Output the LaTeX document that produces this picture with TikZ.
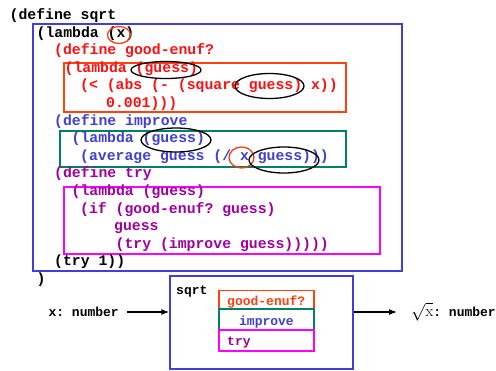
\documentclass[tikz,border=0pt]{standalone}
\usepackage{fontspec}
\setmonofont{Liberation Mono}
\usetikzlibrary{arrows.meta}
\definecolor{codeblue}{RGB}{64,64,208}
\definecolor{boxblue}{RGB}{64,64,216}
\definecolor{codered}{RGB}{255,16,16}
\definecolor{boxred}{RGB}{255,64,16}
\definecolor{boxgreen}{RGB}{0,128,100}
\definecolor{codepurple}{RGB}{160,0,160}
\definecolor{boxmagenta}{RGB}{255,0,255}
\definecolor{circred}{RGB}{240,64,16}
\tikzset{
  code/.style={anchor=base west,inner sep=0pt,font=\fontsize{14.8}{17.6}\selectfont\ttfamily\bfseries},
  small/.style={anchor=base west,inner sep=0pt,font=\fontsize{13}{15}\selectfont\ttfamily\bfseries},
  frame/.style={draw=#1,line width=1.4pt},
  ring/.style={draw=#1,line width=1.3pt},
  arr/.style={line width=1.2pt,-{Latex[length=8pt,width=6pt]}}
}
\begin{document}
\begin{tikzpicture}[x=1pt,y=-1pt]
\useasboundingbox (0,0) rectangle (496,370);
% nested scope frames
\draw[frame=boxblue] (33,24) rectangle (402,271);
\draw[frame=boxred] (64,63) rectangle (346,112);
\draw[frame=boxgreen] (60,131) rectangle (346,167);
\draw[frame=boxmagenta] (64,187) rectangle (380,254);
% source code lines
\node[code] (l1) at (9.5,19.5) {(define sqrt};
\node[code] (l2) at (36.5,37.1) {(lambda (x)};
\node[code,text=codered] (l3) at (54,54.7) {(define good-enuf?};
\node[code,text=codered] (l4) at (64.5,72.3) {(lambda (guess)};
\node[code,text=codered] (l5) at (80,89.9) {(< (abs (- (square guess) x))};
\node[code,text=codered] (l6) at (106,107.5) {0.001)))};
\node[code,text=codeblue] (l7) at (54,125.1) {(define improve};
\node[code,text=codeblue] (l8) at (71.5,142.7) {(lambda (guess)};
\node[code,text=codeblue] (l9) at (80,160.3) {(average guess (/ x guess)))};
\node[code,text=codepurple] (l10) at (54,177.9) {(define try};
\node[code,text=codepurple] (l11) at (71.5,195.5) {(lambda (guess)};
\node[code,text=codepurple] (l12) at (80,213.1) {(if (good-enuf? guess)};
\node[code,text=codepurple] (l13) at (114,230.7) {guess};
\node[code,text=codepurple] (l14) at (115.5,248.3) {(try (improve guess)))))};
\node[code] (l15) at (54,265.9) {(try 1))};
\node[code] (l16) at (36.5,283.5) {)};
% binding and free-variable marks
\draw[ring=circred] (119,35) ellipse [x radius=11.5,y radius=8.5];
\draw[ring=black] (166,70) ellipse [x radius=35,y radius=8.5];
\draw[ring=black] (269.5,86) ellipse [x radius=34.5,y radius=12.5];
\draw[ring=black] (176,140) ellipse [x radius=35,y radius=12];
\draw[ring=circred] (241.5,157.5) ellipse [x radius=12.5,y radius=10.5];
\draw[ring=black] (284,160) ellipse [x radius=35,y radius=13];
% black-box view of sqrt
\node[draw=boxblue,line width=1.4pt,minimum width=183pt,minimum height=93pt,inner sep=0pt] (sq) at (261.5,322.5) {};
\node[small] (sqlbl) at (176,294) {sqrt};
\node[draw=boxred,line width=1.2pt,minimum width=95pt,minimum height=18.5pt,inner sep=0pt] (bg) at (266.5,300) {};
\node[draw=boxgreen,line width=1.2pt,minimum width=95pt,minimum height=21pt,inner sep=0pt] (bi) at (266.5,319.5) {};
\node[draw=boxmagenta,line width=1.2pt,minimum width=95pt,minimum height=21pt,inner sep=0pt] (bt) at (266.5,340.5) {};
\node[small,text=boxred] (tg) at (227,305) {good-enuf?};
\node[small,text=codeblue,anchor=base] (ti) at (266.5,325) {improve};
\node[small,text=codepurple] (tt) at (227,345.5) {try};
\node[small,anchor=base east] (xin) at (119,316) {x: number};
\node[small] (xout) at (411,316) {{\fontsize{16}{18}\selectfont$\sqrt{\mathrm{x}}$}: number};
\coordinate (xa) at (127,312);
\coordinate (xb) at (397,312);
\draw[arr] (xa) -- (xa -| sq.west);
\draw[arr] (xb -| sq.east) -- (xb);
\end{tikzpicture}
\end{document}
